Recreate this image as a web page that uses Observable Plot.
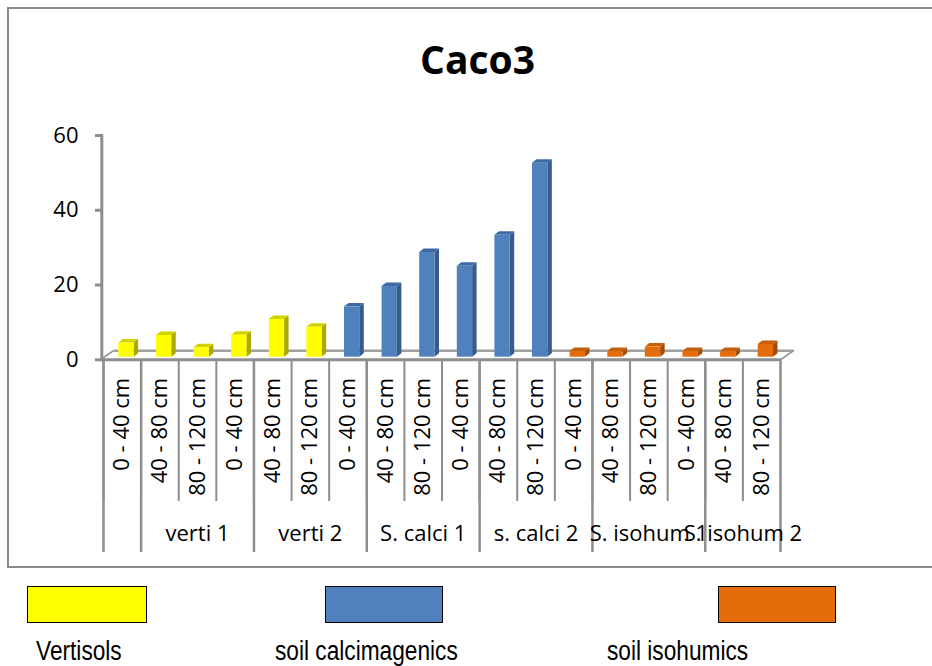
<!DOCTYPE html>
<html><head><meta charset="utf-8">
<script src="https://cdn.jsdelivr.net/npm/d3@7"></script>
<script src="https://cdn.jsdelivr.net/npm/@observablehq/plot@0.6"></script>
<style>
html,body{margin:0;padding:0;background:#fff;}
#page{position:relative;width:932px;height:666px;overflow:hidden;background:#fff;}
#frame{position:absolute;left:7px;top:7px;width:945px;height:561px;border:2px solid #8a8a8a;box-sizing:border-box;}
#title{position:absolute;left:0;top:39px;width:955px;text-align:center;font:700 39px/39px 'Open Sans',sans-serif;color:#000;margin:0;}
#chart{position:absolute;left:0;top:100px;}
.sw{position:absolute;top:586px;height:37px;border:1.5px solid #000;box-sizing:border-box;}
.lab{position:absolute;top:638px;font:27px/27px 'Liberation Sans',Arial,sans-serif;transform:scaleX(0.84);transform-origin:0 0;white-space:nowrap;color:#000;}
</style></head>
<body>
<div id="page">
  <div id="frame"></div>
  <div id="title"></div>
  <div id="chart"></div>
  <div id="legend"></div>
</div>
<script>
// ---------- data ----------
const titleText = "Caco3";
const depths = [
  "0 - 40 cm", "40 - 80 cm", "80 - 120 cm",
  "0 - 40 cm", "40 - 80 cm", "80 - 120 cm",
  "0 - 40 cm", "40 - 80 cm", "80 - 120 cm",
  "0 - 40 cm", "40 - 80 cm", "80 - 120 cm",
  "0 - 40 cm", "40 - 80 cm", "80 - 120 cm",
  "0 - 40 cm", "40 - 80 cm", "80 - 120 cm"
];
const caco3 = [3.8, 5.8, 2.5, 5.9, 10.1, 8.0, 13.4, 18.9, 28.0, 24.3, 32.6, 51.9, 1.5, 1.5, 2.7, 1.5, 1.5, 3.4];
const soilTypes = ["Vertisols", "soil calcimagenics", "soil isohumics"];
const soilOfBar = [0,0,0,0,0,0, 1,1,1,1,1,1, 2,2,2,2,2,2];
const groupLabels = ["", "verti 1", "verti 2", "S. calci 1", "s. calci 2", "S. isohum 1", "S. isohum 2"];
const groupSizes = [1, 3, 3, 3, 3, 3, 2];
const yTicks = [0, 20, 40, 60];

// ---------- styles ----------
const frontColors = ["#ffff00", "#4f81bd", "#e46c0a"];
const sideColors  = ["#a9a900", "#385d8a", "#a34e08"];
const topColors   = ["#d2d200", "#3e6aa3", "#c75e0a"];
const GRAY = "#8e8e8e";
const W = 932, H = 460, ML = 103, MR = 152, MT = 35, MB = 200.7;
const BW = (W - ML - MR) / depths.length;
const PH = H - MT - MB;
const INSET_L = 15.3, INSET_R = 7.0, LIFT = 2.6, DX = 4.5, DY = -3.5;
const FLOOR_DX = 13, FLOOR_DY = -9;
const FONT = "'Open Sans', sans-serif";

// ---------- derived table ----------
const rows = caco3.map((v, i) => ({key: i, depth: depths[i], value: v, type: soilTypes[soilOfBar[i]], t: soilOfBar[i]}));
let acc = 0;
const groups = groupLabels.map((label, g) => {
  const start = acc; acc += groupSizes[g];
  return {label, start, size: groupSizes[g], mid: start + Math.floor((groupSizes[g] - 1) / 2)};
});
const groupStarts = groups.map(g => g.start);

function depthFaces(index, scales) {
  const s = (scales && typeof scales.x === "function") ? scales : index;
  const x = s.x, y = s.y;
  const bw = typeof x.bandwidth === "function" ? x.bandwidth() : BW;
  const g = d3.create("svg:g");
  const y0 = y(0);
  const xl = x(0) - 2, xr = x(depths.length - 1) + bw + 1;
  g.append("path")
    .attr("d", `M${xl},${y0}L${xl + FLOOR_DX},${y0 + FLOOR_DY}M${xr},${y0}L${xr + FLOOR_DX},${y0 + FLOOR_DY}`)
    .attr("fill", "none").attr("stroke", GRAY).attr("stroke-width", 1.6);
  for (const r of rows) {
    const x0 = x(r.key) + INSET_L, x1 = x(r.key) + bw - INSET_R;
    const yt = y(r.value) - LIFT, yb = y(0) - LIFT;
    g.append("path")
      .attr("d", `M${x1},${yt}L${x1 + DX},${yt + DY}L${x1 + DX},${yb + DY}L${x1},${yb}Z`)
      .attr("fill", sideColors[r.t]);
    g.append("path")
      .attr("d", `M${x0},${yt}L${x0 + DX},${yt + DY}L${x1 + DX},${yt + DY}L${x1},${yt}Z`)
      .attr("fill", topColors[r.t]);
  }
  return g.node();
}

const chart = Plot.plot({
  width: W, height: H,
  marginLeft: ML, marginRight: MR, marginTop: MT, marginBottom: MB,
  style: {fontFamily: FONT, fontSize: "22px", color: "#000", background: "transparent", overflow: "visible"},
  x: {type: "band", domain: d3.range(depths.length), padding: 0, round: false, label: null},
  y: {domain: [0, 60], label: null},
  color: {domain: soilTypes, range: frontColors},
  marks: [
    // floor back edge
    Plot.ruleY([0], {dx: FLOOR_DX, dy: FLOOR_DY, insetLeft: -2, stroke: "#a0a0a0", strokeWidth: 2.5}),
    depthFaces,
    Plot.barY(rows, {x: "key", y: "value", fill: "type", insetLeft: INSET_L, insetRight: INSET_R, dy: -LIFT}),
    // floor front edge
    Plot.ruleY([0], {insetLeft: -2, insetRight: -1, stroke: GRAY, strokeWidth: 3}),
    // y axis line
    Plot.ruleX([0], {y1: 0, y2: 60, dx: -BW / 2 - 1.7, stroke: GRAY, strokeWidth: 3}),
    Plot.axisY({ticks: yTicks, tickSize: 8, tickPadding: 17, stroke: GRAY, strokeWidth: 3, fontSize: 22, fill: "#000", label: null}),
    // category separators
    Plot.ruleX(d3.range(depths.length), {dx: -BW / 2, insetTop: PH, insetBottom: -141.7, stroke: GRAY, strokeWidth: 2}),
    Plot.ruleX(groupStarts, {dx: -BW / 2, insetTop: PH, insetBottom: -192.7, stroke: GRAY, strokeWidth: 2.5}),
    Plot.ruleX([depths.length - 1], {dx: BW / 2, insetTop: PH, insetBottom: -192.7, stroke: GRAY, strokeWidth: 2.5}),
    Plot.axisX({tickRotate: -90, tickSize: 0, tickPadding: 18, tickFormat: i => depths[i], fontSize: 22, fill: "#000", label: null}),
    // group labels
    Plot.text(groups.filter(g => g.size % 2 === 1), {x: "mid", text: "label", frameAnchor: "bottom", dy: 181, fontSize: 22, fill: "#000"}),
    Plot.text(groups.filter(g => g.size % 2 === 0), {x: "mid", text: "label", frameAnchor: "bottom", dy: 181, dx: BW / 2, fontSize: 22, fill: "#000"})
  ]
});
document.getElementById("chart").appendChild(chart);
document.getElementById("title").textContent = titleText;

// legend
const swLeft = [27, 325, 718], swWidth = [120, 118, 118];
const labLeft = [36, 275, 607];
const legend = document.getElementById("legend");
soilTypes.forEach((t, i) => {
  const sw = document.createElement("div");
  sw.className = "sw";
  sw.style.left = swLeft[i] + "px";
  sw.style.width = swWidth[i] + "px";
  sw.style.background = frontColors[i];
  legend.appendChild(sw);
  const lab = document.createElement("div");
  lab.className = "lab";
  lab.style.left = labLeft[i] + "px";
  lab.textContent = t;
  legend.appendChild(lab);
});
</script>
</body></html>
